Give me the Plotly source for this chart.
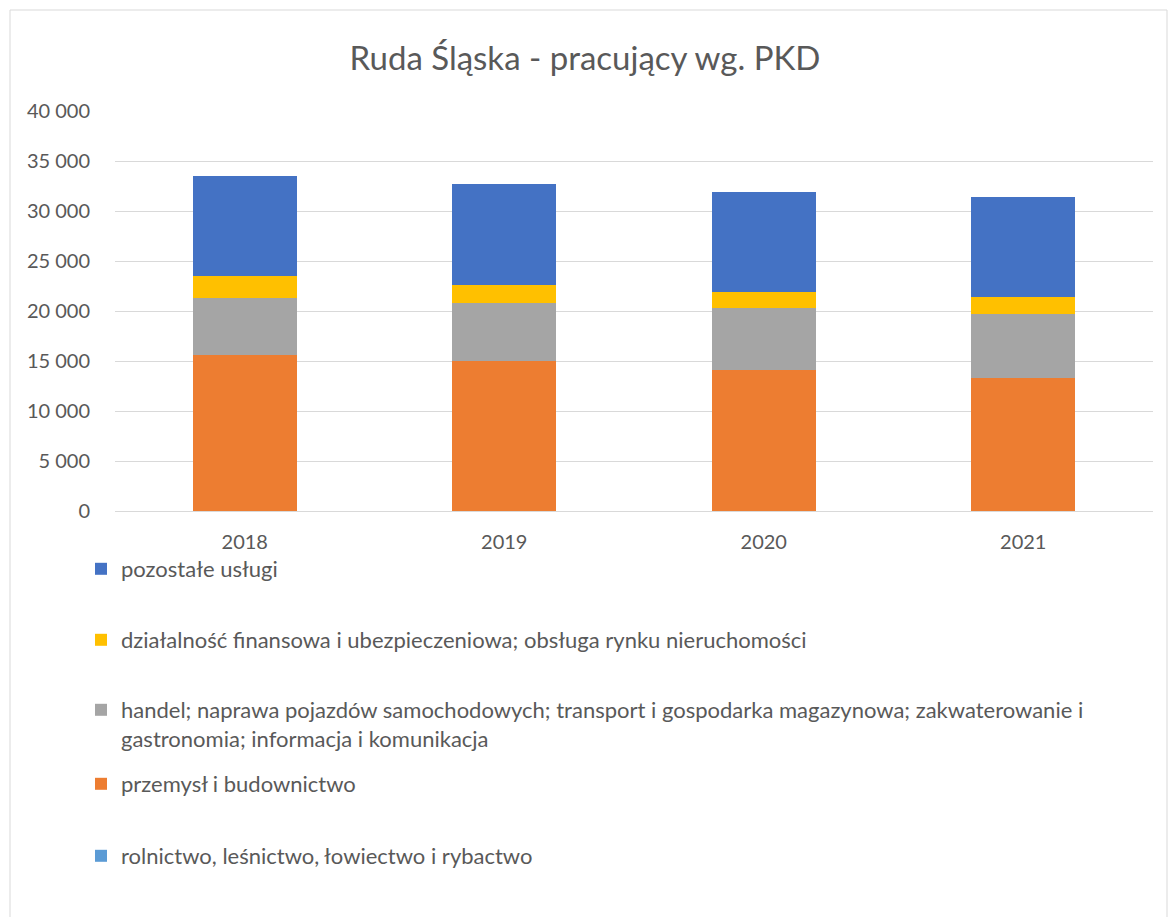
import plotly.graph_objects as go

years = ["2018", "2019", "2020", "2021"]
rolnictwo = [40, 40, 40, 40]
przemysl = [15530, 14930, 14090, 13230]
handel = [5730, 5860, 6170, 6400]
finanse = [2170, 1800, 1600, 1760]
pozostale = [10060, 10040, 9970, 9970]

names = [
    "rolnictwo, leśnictwo, łowiectwo i rybactwo",
    "przemysł i budownictwo",
    "handel; naprawa pojazdów samochodowych; transport i gospodarka magazynowa; zakwaterowanie i<br>gastronomia; informacja i komunikacja",
    "działalność finansowa i ubezpieczeniowa; obsługa rynku nieruchomości",
    "pozostałe usługi",
]
series = [rolnictwo, przemysl, handel, finanse, pozostale]
colors = ["#5B9BD5", "#ED7D31", "#A5A5A5", "#FFC000", "#4472C4"]
legend_ids = ["legend5", "legend4", "legend3", "legend2", "legend"]

W, H = 1170, 917
L, R, T, B = 115, 17, 111, 406
pw, ph = W - L - R, H - T - B

def px_to_paper_x(x):
    return (x - L) / pw

def px_to_paper_y(y):
    return (H - B - y) / ph

fig = go.Figure()
for n, s, c, lg in zip(names, series, colors, legend_ids):
    fig.add_trace(go.Bar(x=years, y=s, name=n, marker=dict(color=c, line=dict(width=0)),
                         legend=lg, showlegend=True))

font_color = "#595959"
legend_y_px = {"legend": 569, "legend2": 640, "legend3": 711, "legend4": 784, "legend5": 856}
legend_layout = {}
for lg, ypx in legend_y_px.items():
    two_line = lg == "legend3"
    legend_layout[lg] = dict(
        x=px_to_paper_x(81), xanchor="left",
        y=px_to_paper_y(ypx - 22) if two_line else px_to_paper_y(ypx),
        yanchor="top" if two_line else "middle",
        valign="top",
        font=dict(family="Lato", size=22, color=font_color),
        bgcolor="rgba(0,0,0,0)", borderwidth=0, itemwidth=30, visible=True,
    )

fig.update_layout(
    width=W, height=H,
    margin=dict(l=L, r=R, t=T, b=B, pad=0),
    barmode="stack",
    bargap=0.6,
    separators=", ",
    showlegend=True,
    paper_bgcolor="white", plot_bgcolor="white",
    font=dict(family="Lato", size=20, color=font_color),
    title=dict(text="Ruda Śląska - pracujący wg. PKD", x=0.5, xanchor="center",
               y=1 - 58 / H, yanchor="middle",
               font=dict(family="Lato", size=33, color=font_color)),
    xaxis=dict(showgrid=False, showline=True, linecolor="#D9D9D9", linewidth=1,
               ticks="", tickfont=dict(size=20, color=font_color), ticklabelstandoff=13),
    yaxis=dict(range=[0, 40000], dtick=5000, tickformat=",d", showgrid=True,
               gridcolor="#D9D9D9", gridwidth=1, zeroline=False, showline=False,
               ticks="", tickfont=dict(size=20, color=font_color), ticklabelstandoff=24),
    shapes=[dict(type="rect", xref="paper", yref="paper",
                 x0=px_to_paper_x(10), x1=px_to_paper_x(1167),
                 y0=px_to_paper_y(930), y1=px_to_paper_y(10),
                 line=dict(color="#D9D9D9", width=1), fillcolor="rgba(0,0,0,0)", layer="below")],
    **legend_layout,
)

fig.write_html("out.html", config={"displayModeBar": False},
               post_script="document.body.style.margin='0';")
